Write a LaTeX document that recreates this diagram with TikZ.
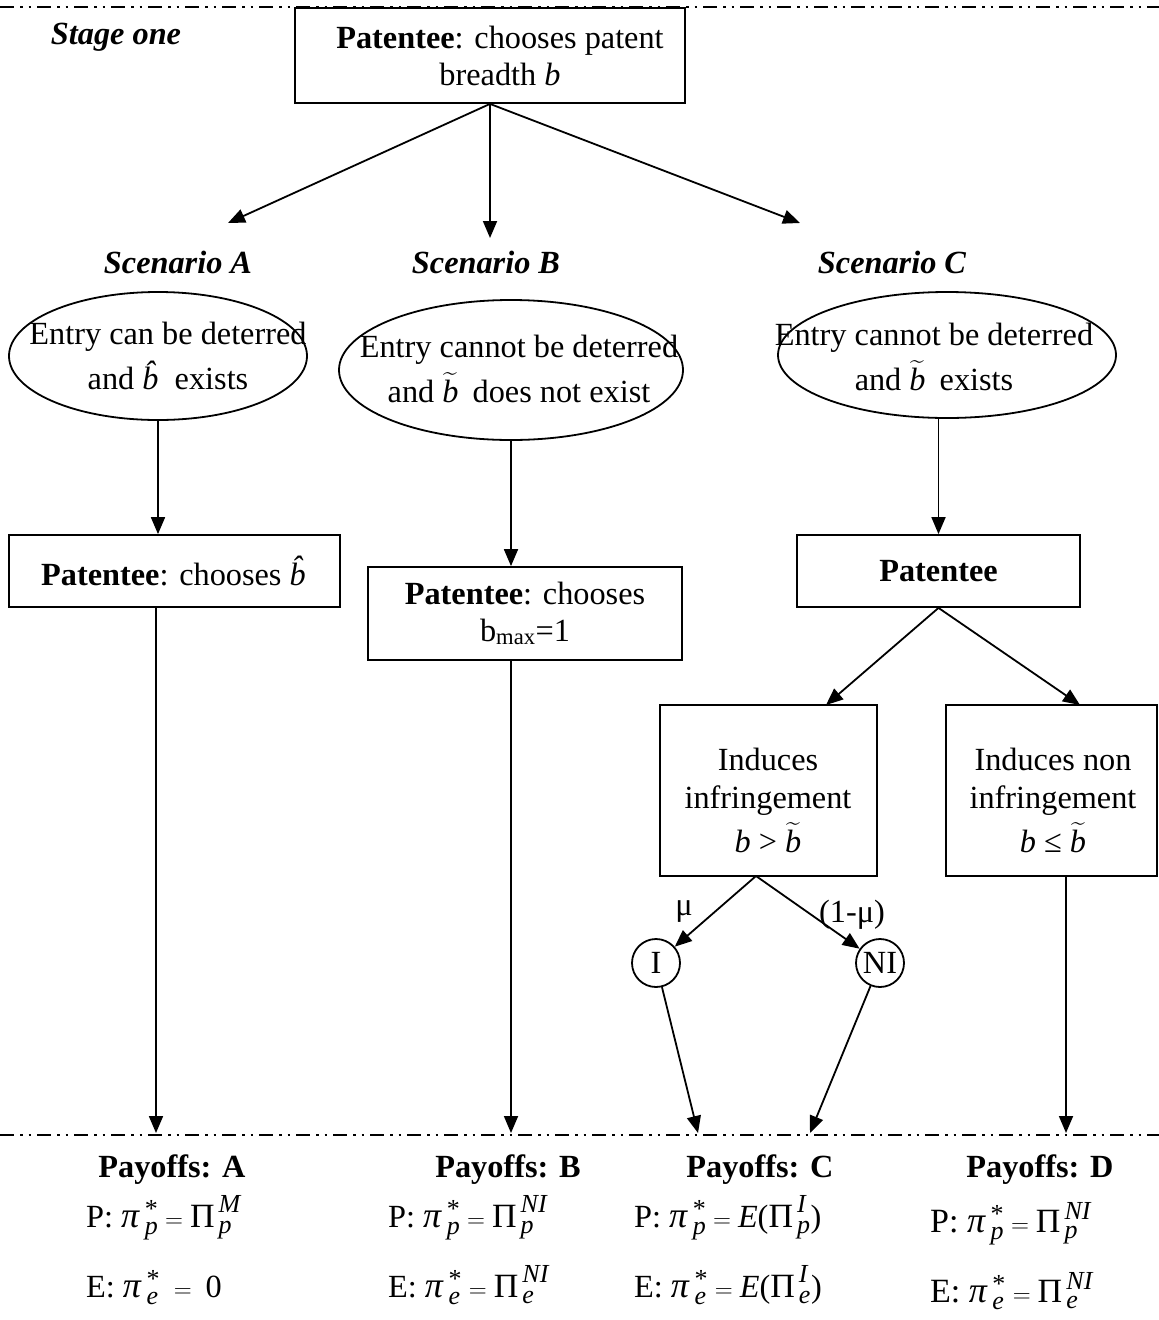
\documentclass[tikz,border=0pt]{standalone}
\usepackage{fontspec}
\usepackage{amsmath}
\setmainfont{Liberation Serif}
\usetikzlibrary{arrows.meta,shapes.geometric}
\newcommand\vit[1]{\text{\itshape #1}}
\newcommand\vup[1]{\text{#1}}
\newcommand\vpi{{\mbox{\fontsize{36}{36}\selectfont\itshape π}\mkern4mu}}
\newcommand\vPi{{\mbox{\fontsize{34}{34}\selectfont Π}\mkern3mu}}
\newcommand\sss[1]{\mbox{\fontsize{26}{26}\selectfont #1}}
\newcommand\wtb{$\widetilde{\text{\itshape b}}$}
\newcommand\whb{\textit{\^{b}}}
\begin{document}
\begin{tikzpicture}[x=1pt,y=-1pt,
  every node/.style={font=\fontsize{32.3}{37}\selectfont, inner sep=0pt},
  arr/.style={line width=1.8pt, -{Triangle[length=17pt,width=14pt]}},
  boxn/.style={draw, line width=1.8pt, fill=white, align=center},
  elln/.style={draw, ellipse, line width=1.8pt},
  circn/.style={draw, circle, line width=1.8pt, minimum size=48pt},
  sepline/.style={line width=2pt, dash pattern=on 14pt off 6pt on 2.5pt off 6pt on 2.5pt off 6pt}]
\useasboundingbox (0,0) rectangle (1159,1320);
% separator lines
\coordinate (tl) at (0,7); \coordinate (tr) at (1159,7);
\coordinate (bl) at (0,1135); \coordinate (br) at (1159,1135);
\draw[sepline] (tl) -- (tr);
\draw[sepline] (bl) -- (br);
% stage one
\node (stage) at (116,37) {\bfseries\itshape Stage one};
\node[boxn, minimum width=390pt, minimum height=95pt] (top) at (490,55.5) {};
\node[align=center] (topt) at (500,56) {\textbf{Patentee}: chooses patent\\breadth \textit{b}};
% scenario labels
\node (sa) at (178,262) {\bfseries\itshape Scenario A};
\node (sb) at (486,262) {\bfseries\itshape Scenario B};
\node (sc) at (892,262) {\bfseries\itshape Scenario C};
\coordinate (ta) at (228,223);
\coordinate (tb) at (490,238);
\coordinate (tc) at (800,223);
\draw[arr] (top.south) -- (ta);
\draw[arr] (top.south) -- (tb);
\draw[arr] (top.south) -- (tc);
% ellipses
\node[elln, minimum width=298pt, minimum height=128pt] (ea) at (158,356) {};
\node[align=center] (eat) at (168,356) {Entry can be deterred\\[8pt]and \whb\hspace{-4pt} exists};
\node[elln, minimum width=344pt, minimum height=140pt] (eb) at (511,370) {};
\node[align=center] (ebt) at (519,369) {Entry cannot be deterred\\[8pt]and \wtb\hspace{6pt} does not exist};
\node[elln, minimum width=338pt, minimum height=126pt] (ec) at (947,355) {};
\node[align=center] (ect) at (934,357) {Entry cannot be deterred\\[8pt]and \wtb\hspace{6pt} exists};
% patentee boxes
\node[boxn, minimum width=331pt, minimum height=72pt] (pa) at (174.5,571)
  {\textbf{Patentee}: chooses \whb\hspace{-10pt}};
\node[boxn, minimum width=314pt, minimum height=93pt] (pb) at (525,613.5)
  {\textbf{Patentee}: chooses\\b\textsubscript{max}=1};
\node[boxn, minimum width=283pt, minimum height=72pt] (pc) at (938.5,571)
  {\textbf{Patentee}};
\draw[arr] (ea.south) -- (ea.south |- pa.north);
\draw[arr] (eb.south) -- (eb.south |- pb.north);
\draw[arr] (pc.north |- ec.south) -- (pc.north);
% infringement boxes
\node[boxn, minimum width=217pt, minimum height=171pt] (inf) at (768.5,790.5) {};
\node[align=center, font=\fontsize{32.3}{38}\selectfont] (inft) at (768,800)
  {Induces\\infringement\\[6pt]\textit{b} > \wtb};
\node[boxn, minimum width=211pt, minimum height=171pt] (ninf) at (1051.5,790.5) {};
\node[align=center, font=\fontsize{32.3}{38}\selectfont] (ninft) at (1053,800)
  {Induces non\\infringement\\[6pt]\textit{b} ≤ \wtb};
\coordinate (ti) at (826,705);
\coordinate (tn) at (1080,705);
\draw[arr] (pc.south) -- (ti);
\draw[arr] (pc.south) -- (tn);
% chance nodes
\node[circn] (ci) at (656,963) {I};
\node[circn] (cn) at (880,963) {NI};
\coordinate (iapex) at (756,876);
\draw[arr] (iapex) -- (ci);
\draw[arr] (iapex) -- (cn);
\node (mu) at (684,912) {μ};
\node (omu) at (852,915) {(1-μ)};
% arrows to payoffs
\coordinate (pa1) at (156,1133);
\coordinate (pb1) at (511,1133);
\coordinate (pc1) at (698,1133);
\coordinate (pc2) at (810,1133);
\coordinate (pd1) at (1066,1133);
\draw[arr] (pa1 |- pa.south) -- (pa1);
\draw[arr] (pb1 |- pb.south) -- (pb1);
\draw[arr] (ci) -- (pc1);
\draw[arr] (cn) -- (pc2);
\draw[arr] (pd1 |- ninf.south) -- (pd1);
% payoffs
\node[anchor=base] (ya) at (172,1177) {\textbf{Payoffs: A}};
\node[anchor=base] (yb) at (508,1177) {\textbf{Payoffs: B}};
\node[anchor=base] (yc) at (760,1177) {\textbf{Payoffs: C}};
\node[anchor=base] (yd) at (1040,1177) {\textbf{Payoffs: D}};
\node[anchor=base west] (apa) at (86,1227) {P:\ $\vpi^{\sss{*}}_{\sss{\itshape p}} = \vPi^{\sss{\itshape M}}_{\sss{\itshape p}}$};
\node[anchor=base west] (aea) at (86,1297) {E:\ $\vpi^{\sss{*}}_{\sss{\itshape e}} \;=\; \vup{0}$};
\node[anchor=base west] (apb) at (388,1227) {P:\ $\vpi^{\sss{*}}_{\sss{\itshape p}} = \vPi^{\sss{\itshape NI}}_{\sss{\itshape p}}$};
\node[anchor=base west] (aeb) at (388,1297) {E:\ $\vpi^{\sss{*}}_{\sss{\itshape e}} = \vPi^{\sss{\itshape NI}}_{\sss{\itshape e}}$};
\node[anchor=base west] (apc) at (634,1227) {P:\ $\vpi^{\sss{*}}_{\sss{\itshape p}} = \vit{E}\vup{(}\vPi^{\sss{\itshape I}}_{\sss{\itshape p}}\vup{)}$};
\node[anchor=base west] (aec) at (634,1297) {E:\ $\vpi^{\sss{*}}_{\sss{\itshape e}} = \vit{E}\vup{(}\vPi^{\sss{\itshape I}}_{\sss{\itshape e}}\vup{)}$};
\begin{scope}[every node/.style={font=\fontsize{34}{38}\selectfont, inner sep=0pt}]
\node[anchor=base west] (apd) at (930,1232) {P:\ $\vpi^{\sss{*}}_{\sss{\itshape p}} = \vPi^{\sss{\itshape NI}}_{\sss{\itshape p}}$};
\node[anchor=base west] (aed) at (930,1302) {E:\ $\vpi^{\sss{*}}_{\sss{\itshape e}} = \vPi^{\sss{\itshape NI}}_{\sss{\itshape e}}$};
\end{scope}
\end{tikzpicture}
\end{document}
